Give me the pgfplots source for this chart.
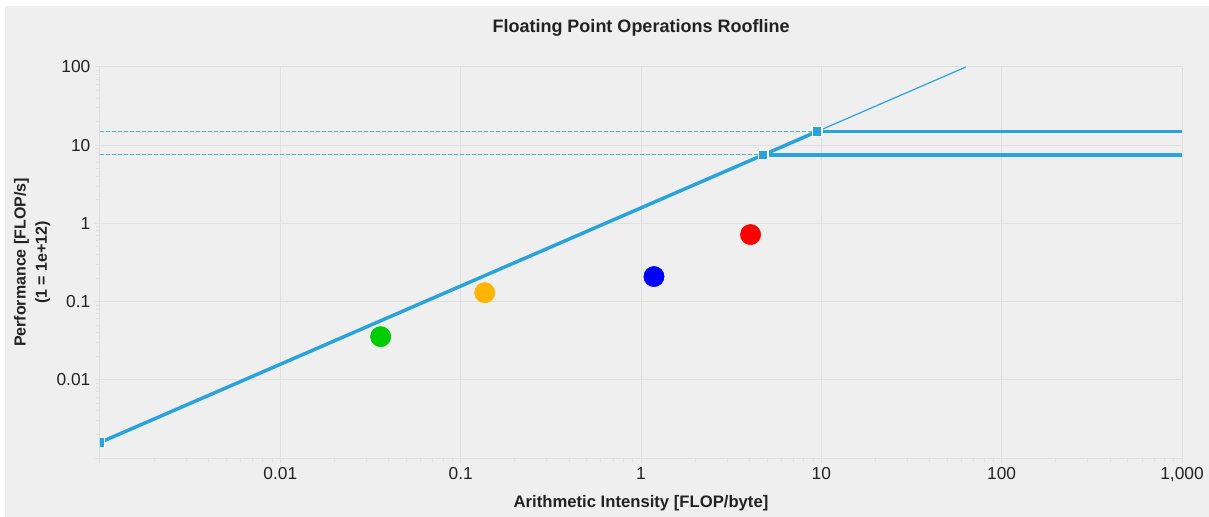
\documentclass[border=0pt]{standalone}
\usepackage{fontspec}
\setmainfont{Liberation Sans}
\usepackage{pgfplots}
\pgfplotsset{compat=1.18}

\definecolor{bggray}{HTML}{EFEFEF}
\definecolor{gridgray}{HTML}{E0E0E0}
\definecolor{roof}{HTML}{29A3DB}
\definecolor{dashc}{HTML}{4DB5C8}
\definecolor{txt}{HTML}{222222}
\definecolor{pgreen}{HTML}{00CC00}
\definecolor{porange}{HTML}{FFB400}
\definecolor{pblue}{HTML}{0000FF}
\definecolor{pred}{HTML}{FF0000}

\begin{document}
\begin{tikzpicture}
% 1 px = 0.75pt; picture is 1209 x 517 px
\fill[white] (0pt,0pt) rectangle (906.75pt,387.75pt);
\fill[bggray] (3.75pt,0pt) rectangle (906.75pt,383.25pt);
\begin{axis}[
    at={(75pt,44.25pt)}, anchor=south west,
    scale only axis,
    width=811.5pt, height=293.25pt,
    xmode=log, ymode=log,
    xmin=1e-3, xmax=1e3, ymin=1e-3, ymax=100,
    xtick={1e-3,1e-2,1e-1,1,10,100,1000},
    xticklabels={,0.01,0.1,1,10,100,{1,000}},
    ytick={1e-3,1e-2,1e-1,1,10,100},
    yticklabels={,0.01,0.1,1,10,100},
    minor tick num=0,
    tick align=outside,
    major tick length=3.75pt,
    tick style={gridgray, line width=0.75pt},
    grid=major,
    major grid style={gridgray, line width=0.75pt},
    axis line style={gridgray, line width=0.75pt},
    separate axis lines,
    axis x line*=bottom, axis y line*=left,
    ticklabel style={font=\fontsize{13}{15}\selectfont, text=txt},
    title={Floating Point Operations Roofline},
    title style={at={(axis description cs:0.5,1.079)}, anchor=center,
        font=\bfseries\fontsize{13.5}{16}\selectfont, text=txt},
    xlabel={Arithmetic Intensity [FLOP/byte]},
    xlabel style={at={(axis description cs:0.5,-0.1151)}, anchor=center,
        font=\bfseries\fontsize{12.5}{15}\selectfont, text=txt},
    ylabel={Performance [FLOP/s]\\(1 = 1e+12)},
    ylabel style={at={(axis description cs:-0.0628,0.5)}, anchor=center,
        align=center, font=\bfseries\fontsize{12}{16}\selectfont, text=txt},
    clip marker paths=true,
]
% thin extension of the bandwidth line
\addplot[roof, line width=0.9pt, forget plot] coordinates {(0.00158,0.0025) (63.3,100)};
% dashed guides to the ceilings
\addplot[dashc, line width=0.75pt, dash pattern=on 3pt off 1.5pt] coordinates {(0.001,7.5) (4.75,7.5)};
\addplot[dashc, line width=0.75pt, dash pattern=on 3pt off 1.5pt] coordinates {(0.001,15) (9.49,15)};
% ceilings
\addplot[roof, line width=2.6pt] coordinates {(4.75,7.5) (1000,7.5)};
\addplot[roof, line width=2.6pt] coordinates {(9.49,15) (1000,15)};
% bandwidth roof
\addplot[roof, line width=2.6pt] coordinates {(0.001,0.00158) (4.75,7.5) (9.49,15)};
% knee markers
\addplot[only marks, mark=square*, mark size=3.6pt,
    mark options={fill=roof, draw=white, line width=1pt}]
    coordinates {(0.001,0.00158) (4.75,7.5) (9.49,15)};
% kernels
\addplot[only marks, mark=*, mark size=7.6pt, pgreen] coordinates {(0.036,0.0356)};
\addplot[only marks, mark=*, mark size=7.6pt, porange] coordinates {(0.136,0.130)};
\addplot[only marks, mark=*, mark size=7.6pt, pblue] coordinates {(1.18,0.209)};
\addplot[only marks, mark=*, mark size=7.6pt, pred] coordinates {(4.05,0.72)};
\end{axis}
\pgfresetboundingbox
\useasboundingbox (0pt,0pt) rectangle (906.75pt,387.75pt);
\end{tikzpicture}
\end{document}
